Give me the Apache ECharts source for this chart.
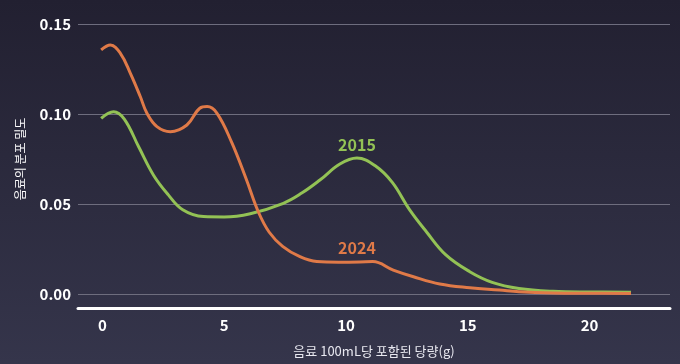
<!DOCTYPE html>
<html><head><meta charset="utf-8">
<script src="https://cdn.jsdelivr.net/npm/echarts@6/dist/echarts.min.js"></script>
<style>html,body{margin:0;padding:0;background:#25233a;}#c{width:680px;height:364px;}</style>
</head><body><div id="c"></div>
<script>
const xTicks = [0, 5, 10, 15, 20];
const yTicks = [0, 0.05, 0.10, 0.15];
const series2015 = [[-0.05,0.0976],[0.46,0.1013],[0.9,0.0972],[1.5,0.0815],[2.1,0.066],[2.7,0.0552],[3.3,0.0468],[4.15,0.043],[5.0,0.0428],[6.07,0.0446],[7.43,0.0504],[8.2,0.0562],[8.93,0.0633],[9.75,0.0722],[10.45,0.0755],[11.2,0.0712],[11.9,0.062],[12.6,0.047],[13.3,0.0346],[14.1,0.0217],[15.08,0.0124],[16.0,0.0065],[17.1,0.0031],[18.5,0.0015],[20,0.0011],[21.7,0.001]];
const series2024 = [[-0.05,0.1356],[0.33,0.1383],[0.74,0.1337],[1.15,0.1226],[1.56,0.1096],[1.83,0.1004],[2.24,0.093],[2.79,0.0902],[3.47,0.0939],[4.0,0.1032],[4.3,0.1041],[4.7,0.1005],[5.3,0.0845],[5.9,0.064],[6.4,0.0457],[6.85,0.0343],[7.4,0.0265],[8.11,0.0207],[8.8,0.018],[9.7,0.0177],[10.57,0.0178],[11.1,0.018],[11.94,0.0133],[12.77,0.0096],[13.85,0.0056],[15.08,0.0035],[16.3,0.0022],[17.1,0.0013],[18.5,0.0006],[20,0.0004],[21.7,0.0003]];
const labels = [{name:'2015', x:10.45, y:0.083, color:'#93c255'},{name:'2024', x:10.45, y:0.0255, color:'#e07a48'}];
const chart = echarts.init(document.getElementById('c'));
chart.setOption({
  backgroundColor: new echarts.graphic.LinearGradient(0,0,0,1,[{offset:0,color:'#222031'},{offset:1,color:'#35354b'}]),
  grid:{left:78, right:10, top:24, bottom:70},
  xAxis:{type:'value', min:-1, max:23.3, offset:14,
    axisLine:{show:true, onZero:false, lineStyle:{color:'#ffffff', width:3}},
    axisTick:{show:false}, splitLine:{show:false},
    axisLabel:{customValues:xTicks, color:'#fff', fontWeight:'bold', fontSize:15, fontFamily:'Noto Sans CJK KR', margin:10},
    name:'음료 100mL당 포함된 당량(g)', nameLocation:'middle', nameGap:37,
    nameTextStyle:{color:'#e8e8f0', fontSize:13, fontFamily:'Noto Sans CJK KR'}},
  yAxis:{type:'value', min:0, max:0.15, interval:0.05,
    axisLine:{show:false}, axisTick:{show:false},
    splitLine:{lineStyle:{color:'#6e6d7e', width:1}},
    axisLabel:{color:'#fff', fontWeight:'bold', fontSize:15, fontFamily:'Noto Sans CJK KR', margin:7,
      formatter:v=>v.toFixed(2)},
    name:'음료의 분포 밀도', nameLocation:'middle', nameGap:52, nameRotate:90,
    nameTextStyle:{color:'#fff', fontSize:12, fontFamily:'Noto Sans CJK KR'}},
  series:[
    {type:'line', data:series2015, smooth:0.4, symbol:'none', lineStyle:{color:'#93c255', width:3}},
    {type:'line', data:series2024, smooth:0.4, symbol:'none', lineStyle:{color:'#e07a48', width:3}},
    {type:'scatter', symbolSize:0, itemStyle:{opacity:1}, data:labels.map(l=>({value:[l.x,l.y], label:{show:true, position:'inside', formatter:l.name, color:l.color, opacity:1, fontSize:16, fontWeight:'bold', fontFamily:'Noto Sans CJK KR'}})), silent:true}
  ]
});
</script></body></html>
